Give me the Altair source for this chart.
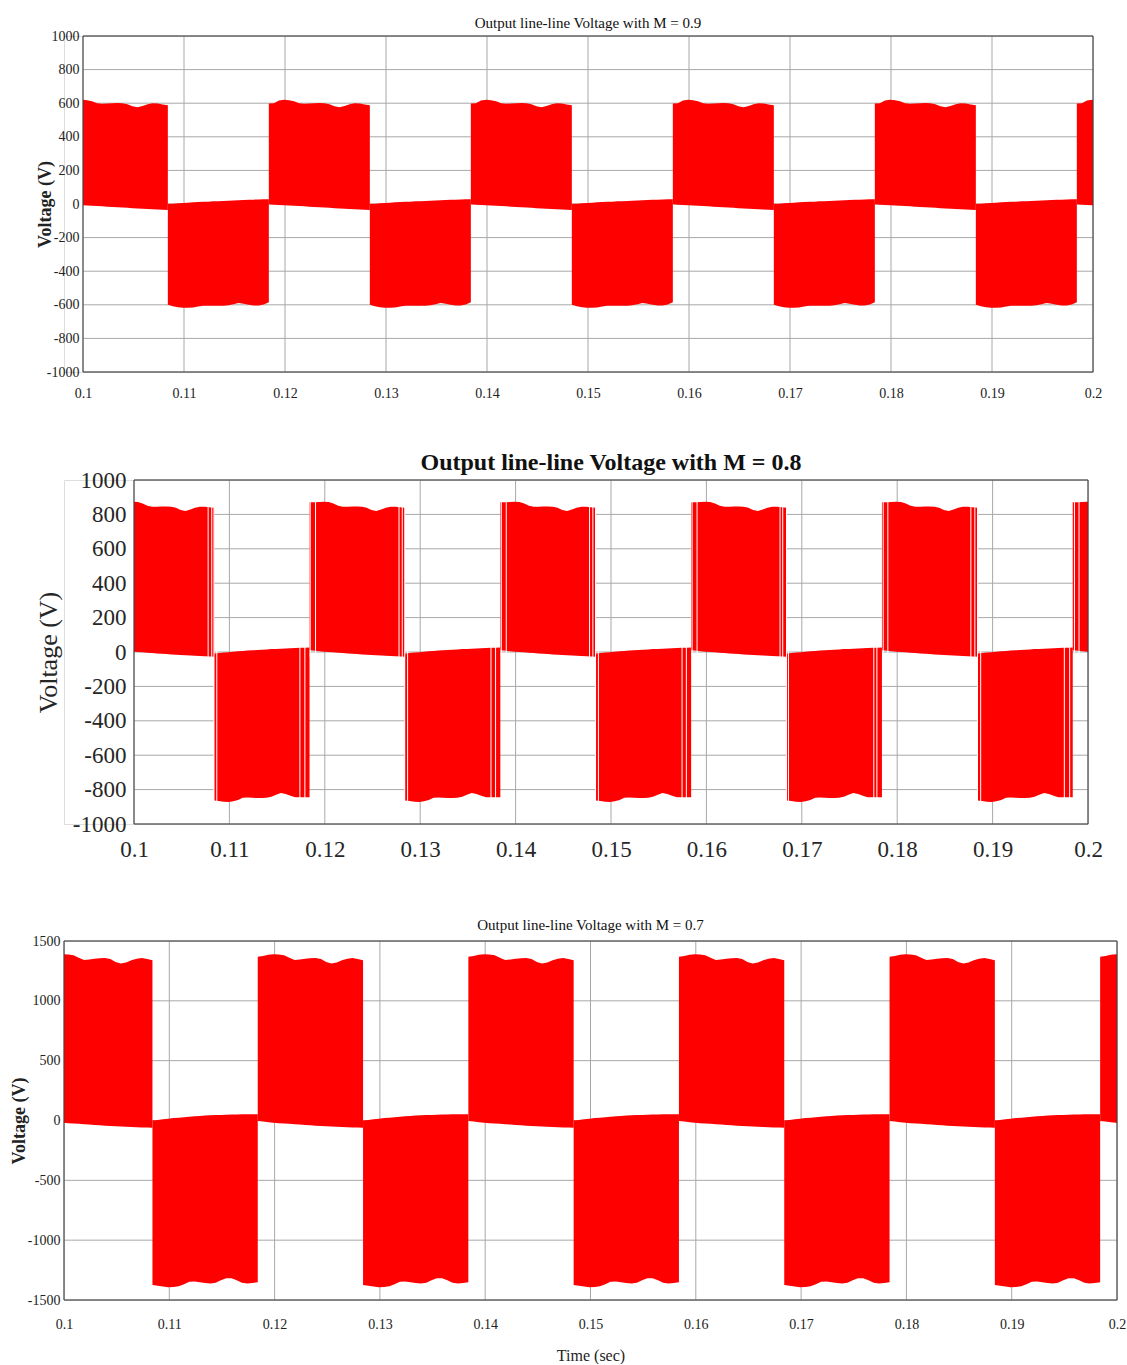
import altair as alt
import pandas as pd

# ---------------- data ----------------
XTICKS = [0.1, 0.11, 0.12, 0.13, 0.14, 0.15, 0.16, 0.17, 0.18, 0.19, 0.2]
Y_TICKS_1000 = [-1000, -800, -600, -400, -200, 0, 200, 400, 600, 800, 1000]
Y_TICKS_1500 = [-1500, -1000, -500, 0, 500, 1000, 1500]

# start time (s) of every half cycle and its polarity (+1 positive block, -1 negative block)
HALF_STARTS = [0.0984, 0.1084, 0.1184, 0.1284, 0.1384, 0.1484, 0.1584, 0.1684, 0.1784, 0.1884, 0.1984]
HALF_SIGNS = [1, -1, 1, -1, 1, -1, 1, -1, 1, -1, 1]

# envelope sample points inside one half cycle (ms from its start)
OFFSETS_MS = [0.0, 0.5, 1.0, 1.5, 2.0, 2.5, 3.0, 3.5, 4.0, 4.5, 5.0,
              5.5, 6.0, 6.5, 7.0, 7.5, 8.0, 8.5, 9.0, 9.5, 10.0]

# M = 0.9
M09_POS_TOP = [598, 600, 616, 620, 618, 612, 600, 596, 598, 600, 601, 600, 594, 582, 576, 584, 594, 600, 598, 592, 588]
M09_POS_BOT = [-2, -4, -6, -8, -9, -11, -12, -14, -16, -18, -19, -21, -23, -25, -27, -28, -30, -31, -33, -34, -35]
M09_NEG_TOP = [1, 2, 4, 6, 8, 10, 12, 13, 14, 16, 17, 18, 20, 21, 22, 24, 25, 26, 27, 28, 29]
M09_NEG_BOT = [-600, -608, -614, -618, -618, -616, -610, -606, -605, -606, -606, -605, -602, -596, -590, -594, -600, -604, -604, -598, -585]

# M = 0.8
M08_POS_TOP = [870, 870, 872, 874, 872, 864, 850, 845, 845, 846, 846, 845, 838, 825, 820, 828, 838, 845, 845, 842, 838]
M08_POS_BOT = [10, 7, 5, 2, 0, -2, -4, -6, -8, -10, -12, -14, -16, -17, -19, -20, -22, -23, -25, -26, -27]
M08_NEG_TOP = [-8, -6, -3, -1, 2, 4, 6, 8, 10, 11, 13, 14, 17, 18, 19, 21, 22, 23, 24, 25, 26]
M08_NEG_BOT = [-864, -866, -870, -872, -868, -860, -848, -846, -848, -849, -849, -848, -842, -830, -820, -826, -836, -844, -845, -845, -845]

# missing pulses (thin white gaps) near the switching instants for M = 0.8
GAPS_08_T = [0.10777, 0.10815, 0.10838, 0.10868, 0.11739, 0.11791, 0.11847, 0.11903,
             0.12778, 0.12812, 0.12838, 0.12868, 0.13742, 0.13790, 0.13850, 0.13902,
             0.14775, 0.14810, 0.14838, 0.14868, 0.15745, 0.15790, 0.15850, 0.15902,
             0.16772, 0.16800, 0.16840, 0.16860, 0.17755, 0.17787, 0.17853, 0.17902,
             0.18772, 0.18814, 0.18842, 0.18875, 0.19752, 0.19808, 0.19858, 0.19906]
GAPS_08_KIND = ["pos", "pos", "switch", "neg", "neg", "neg", "pos", "pos"] * 5

# M = 0.7
M07_POS_TOP = [1368, 1375, 1386, 1390, 1388, 1380, 1360, 1342, 1345, 1352, 1356, 1358, 1350, 1325, 1312, 1320, 1340, 1352, 1358, 1350, 1340]
M07_POS_BOT = [-4, -9, -14, -18, -22, -25, -28, -31, -34, -37, -40, -43, -46, -48, -51, -53, -55, -57, -58, -59, -60]
M07_NEG_TOP = [0, 5, 10, 15, 20, 24, 28, 32, 35, 38, 41, 43, 45, 47, 49, 50, 51, 52, 52, 52, 52]
M07_NEG_BOT = [-1374, -1380, -1388, -1393, -1392, -1385, -1368, -1348, -1345, -1352, -1358, -1362, -1355, -1335, -1318, -1318, -1335, -1355, -1362, -1358, -1352]

FONT = "Liberation Serif"
RED = "#ff0000"
GRID = "#a8a8a8"
FRAME = "#404040"


def build(pos_top, pos_bot, neg_top, neg_bot):
    rows = []
    for k, (start, sign) in enumerate(zip(HALF_STARTS, HALF_SIGNS)):
        hi, lo = (pos_top, pos_bot) if sign > 0 else (neg_top, neg_bot)
        for off, h, l in zip(OFFSETS_MS, hi, lo):
            rows.append({"t": round(start + off / 1000.0, 6), "hi": h, "lo": l, "block": k})
    return pd.DataFrame(rows)


def panel(df, width, xr0, height, ydom, yticks, title, tsize, tweight, toffset, tdx,
          lsize, xlpad, ylpad, ytitle_size, ytitle_weight, ytitle_x,
          xtitle=None, xtitle_size=14, xtitle_pad=10, gaps=None, lcolor="#222222",
          spacer_y=0):
    xs = alt.Scale(domain=[0.1, 0.2], range=[xr0, width], nice=False, zero=False, clamp=True)
    ys = alt.Scale(domain=ydom, nice=False, zero=False)
    xaxis = alt.Axis(values=XTICKS, labelExpr="toString(datum.value)", labelFont=FONT,
                     labelFontSize=lsize, labelColor=lcolor, labelPadding=xlpad,
                     grid=False, domain=False, ticks=False,
                     title=xtitle, titleFont=FONT, titleFontSize=xtitle_size,
                     titleFontWeight="normal", titleColor=lcolor, titlePadding=xtitle_pad,
                     labelOverlap=False, labelFlush=False)
    yaxis = alt.Axis(values=yticks, labelExpr="toString(datum.value)", labelFont=FONT,
                     labelFontSize=lsize, labelColor=lcolor, labelPadding=ylpad,
                     grid=False, domain=False, ticks=False, offset=-xr0,
                     title="Voltage (V)", titleFont=FONT, titleFontSize=ytitle_size,
                     titleFontWeight=ytitle_weight, titleColor=lcolor, titleAngle=270,
                     titleX=ytitle_x, titleY=height / 2, titleAlign="center",
                     titleBaseline="middle", labelOverlap=False, labelFlush=False)

    # grid lines at the tick values, spanning the data rectangle only
    hgrid_df = pd.DataFrame({"v": yticks, "x0": [0.1] * len(yticks), "x1": [0.2] * len(yticks)})
    hgrid = alt.Chart(hgrid_df).mark_rule(color=GRID, strokeWidth=1).encode(
        x=alt.X("x0:Q", scale=xs, axis=xaxis), x2="x1:Q",
        y=alt.Y("v:Q", scale=ys, axis=yaxis))
    vgrid_df = pd.DataFrame({"t": XTICKS, "y0": [ydom[0]] * len(XTICKS), "y1": [ydom[1]] * len(XTICKS)})
    vgrid = alt.Chart(vgrid_df).mark_rule(color=GRID, strokeWidth=1).encode(
        x=alt.X("t:Q", scale=xs, axis=xaxis),
        y=alt.Y("y0:Q", scale=ys, axis=yaxis), y2="y1:Q")

    area = alt.Chart(df).mark_area(color=RED, opacity=1).encode(
        x=alt.X("t:Q", scale=xs, axis=xaxis),
        y=alt.Y("hi:Q", scale=ys, axis=yaxis),
        y2="lo:Q",
        detail="block:N",
    )
    layers = [hgrid, vgrid, area]
    if gaps is not None:
        layers.append(alt.Chart(gaps).mark_rule(color="white", strokeWidth=1).encode(
            x=alt.X("t:Q", scale=xs, axis=xaxis),
            y=alt.Y("lo:Q", scale=ys, axis=yaxis), y2="hi:Q"))

    frame_df = pd.DataFrame({"x0": [0.1], "x1": [0.2], "y0": [ydom[0]], "y1": [ydom[1]]})
    layers.append(alt.Chart(frame_df).mark_rect(filled=False, color=FRAME, strokeWidth=1).encode(
        x=alt.X("x0:Q", scale=xs, axis=xaxis), x2="x1:Q",
        y=alt.Y("y0:Q", scale=ys, axis=yaxis), y2="y1:Q"))

    # invisible spacer so that every panel has the same left extent
    layers.append(alt.Chart(pd.DataFrame({"s": ["."]})).mark_text(
        text=".", opacity=0, align="left", baseline="top", fontSize=2
    ).encode(x=alt.value(-56), y=alt.value(spacer_y)))

    return alt.layer(*layers).properties(
        width=width, height=height,
        title=alt.TitleParams(title, font=FONT, fontSize=tsize, fontWeight=tweight,
                              color="#111111", offset=toffset, anchor="middle",
                              frame="group", dx=tdx),
    )


df09 = build(M09_POS_TOP, M09_POS_BOT, M09_NEG_TOP, M09_NEG_BOT)
df08 = build(M08_POS_TOP, M08_POS_BOT, M08_NEG_TOP, M08_NEG_BOT)
df07 = build(M07_POS_TOP, M07_POS_BOT, M07_NEG_TOP, M07_NEG_BOT)

GAP_LO = {"pos": -30, "neg": -890, "switch": -890}
GAP_HI = {"pos": 890, "neg": 30, "switch": 890}
gaps08 = pd.DataFrame({
    "t": GAPS_08_T,
    "lo": [GAP_LO[k] for k in GAPS_08_KIND],
    "hi": [GAP_HI[k] for k in GAPS_08_KIND],
})

# all views start at x = 63; the data range of each panel is placed inside with the scale range
p1 = panel(df09, 1029, 19, 336, [-1000, 1000], Y_TICKS_1000,
           "Output line-line Voltage with M = 0.9", 15, "normal", -2, 9.5,
           14, 14, 4, 18, "bold", -38)
p2 = panel(df08, 1024, 70, 344, [-1000, 1000], Y_TICKS_1000,
           "Output line-line Voltage with M = 0.8", 24, "bold", -6, 35,
           23, 14, 8, 26, "normal", -86, gaps=gaps08, lcolor="#262626",
           spacer_y=385)
p3 = panel(df07, 1053, 0, 359, [-1500, 1500], Y_TICKS_1500,
           "Output line-line Voltage with M = 0.7", 15, "normal", 1, 0,
           14, 17, 4, 18, "bold", -45, xtitle="Time (sec)", xtitle_size=16,
           xtitle_pad=16, spacer_y=0)

chart = alt.vconcat(p1, p2, p3, spacing=49).properties(
    padding={"left": 7, "top": 15, "right": 0, "bottom": 0}
).configure_view(stroke=None, strokeWidth=0).configure(background="white")

chart.save("out.html", embed_options={"renderer": "svg", "actions": False})
